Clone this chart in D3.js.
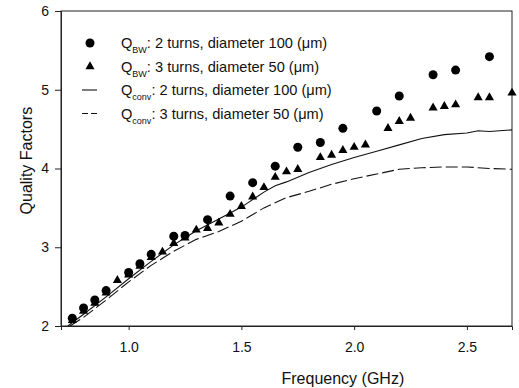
<html lang="en">
  <head>
    <meta charset="UTF-8" />
    <title>Quality Factors vs Frequency</title>
    <script src="https://d3js.org/d3.v7.min.js"></script>
  </head>
  <style>
    body { margin: 0; background: #fff; }
    text { font-family: "Liberation Sans", Arial, sans-serif; fill: #111; }
  </style>
  <body>
    <svg></svg>
    <script>
      var width = 519;
      var height = 388;
      var margin = { top: 11, right: 7, bottom: 62, left: 61 };

      // Q_BW, 2 turns, diameter 100 um (circles)
      var bw2Freq = [0.75, 0.80, 0.85, 0.90, 1.00, 1.05, 1.10, 1.20, 1.25, 1.35, 1.45, 1.55, 1.65, 1.75, 1.85, 1.95, 2.10, 2.20, 2.35, 2.45, 2.60];
      var bw2Q = [2.10, 2.23, 2.33, 2.45, 2.68, 2.79, 2.91, 3.14, 3.15, 3.35, 3.65, 3.82, 4.03, 4.27, 4.33, 4.51, 4.73, 4.92, 5.19, 5.25, 5.42];

      // Q_BW, 3 turns, diameter 50 um (triangles)
      var bw3Freq = [0.75, 0.80, 0.85, 0.90, 0.95, 1.00, 1.05, 1.10, 1.15, 1.20, 1.25, 1.30, 1.35, 1.40, 1.45, 1.50, 1.55, 1.60, 1.65, 1.70, 1.75, 1.85, 1.90, 1.95, 2.00, 2.05, 2.15, 2.20, 2.25, 2.35, 2.40, 2.45, 2.55, 2.60, 2.70];
      var bw3Q = [2.07, 2.19, 2.29, 2.42, 2.58, 2.65, 2.76, 2.87, 2.94, 3.05, 3.12, 3.22, 3.24, 3.31, 3.42, 3.52, 3.64, 3.76, 3.89, 3.96, 3.99, 4.14, 4.17, 4.23, 4.27, 4.30, 4.51, 4.60, 4.64, 4.77, 4.79, 4.81, 4.90, 4.90, 4.96];

      // Q_conv, 2 turns, diameter 100 um (solid)
      var conv2Freq = [0.73, 0.80, 0.90, 1.00, 1.10, 1.20, 1.30, 1.40, 1.50, 1.60, 1.65, 1.70, 1.80, 1.90, 2.00, 2.10, 2.20, 2.30, 2.40, 2.50, 2.55, 2.60, 2.70];
      var conv2Q = [2.00, 2.15, 2.37, 2.60, 2.82, 3.03, 3.21, 3.36, 3.51, 3.70, 3.78, 3.83, 3.95, 4.05, 4.14, 4.22, 4.30, 4.38, 4.43, 4.45, 4.48, 4.47, 4.49];

      // Q_conv, 3 turns, diameter 50 um (dashed)
      var conv3Freq = [0.74, 0.80, 0.90, 1.00, 1.10, 1.20, 1.30, 1.40, 1.50, 1.60, 1.70, 1.80, 1.90, 2.00, 2.10, 2.20, 2.30, 2.40, 2.50, 2.60, 2.70];
      var conv3Q = [2.00, 2.11, 2.33, 2.56, 2.77, 2.95, 3.10, 3.20, 3.33, 3.50, 3.63, 3.71, 3.80, 3.87, 3.93, 3.99, 4.01, 4.02, 4.02, 4.00, 3.99];

      var xTicks = [1.0, 1.5, 2.0, 2.5];
      var yTicks = [2, 3, 4, 5, 6];

      var legendItems = [
        { sub: "BW", rest: ": 2 turns, diameter 100 (\u03bcm)", kind: "circle" },
        { sub: "BW", rest: ": 3 turns, diameter 50 (\u03bcm)", kind: "triangle" },
        { sub: "conv", rest: ": 2 turns, diameter 100 (\u03bcm)", kind: "solid" },
        { sub: "conv", rest: ": 3 turns, diameter 50 (\u03bcm)", kind: "dashed" },
      ];

      var svg = d3.select("svg").attr("width", width).attr("height", height);

      var innerW = width - margin.left - margin.right;
      var innerH = height - margin.top - margin.bottom;

      var x = d3.scaleLinear().domain([0.7, 2.7]).range([0, innerW]);
      var y = d3.scaleLinear().domain([2, 6]).range([innerH, 0]);

      var g = svg.append("g").attr("transform", `translate(${margin.left}, ${margin.top})`);

      // frame
      g.append("rect")
        .attr("width", innerW)
        .attr("height", innerH)
        .style("fill", "none")
        .style("stroke", "#222")
        .style("stroke-width", 1);

      var xAxis = g.append("g")
        .attr("transform", `translate(0, ${innerH})`)
        .call(d3.axisBottom(x).tickValues(xTicks).tickFormat(d3.format(".1f")).tickSize(4).tickPadding(12));
      var yAxis = g.append("g")
        .call(d3.axisLeft(y).tickValues(yTicks).tickFormat(d3.format("d")).tickSize(6).tickPadding(6));

      [xAxis, yAxis].forEach(function (a) {
        a.selectAll(".domain").style("stroke", "#222");
        a.selectAll("line").style("stroke", "#222");
        a.selectAll("text").style("font-size", "14px").style("fill", "#111")
          .style("font-family", '"Liberation Sans", Arial, sans-serif');
      });

      svg.append("text")
        .attr("x", margin.left + (x(1.95)))
        .attr("y", 384)
        .attr("text-anchor", "middle")
        .style("font-size", "16px")
        .text("Frequency (GHz)");

      svg.append("text")
        .attr("transform", `translate(32, ${margin.top + y(4.1)}) rotate(-90)`)
        .attr("text-anchor", "middle")
        .style("font-size", "16px")
        .text("Quality Factors");

      var line = d3.line().x((d) => x(d[0])).y((d) => y(d[1]));

      g.append("path")
        .datum(d3.zip(conv2Freq, conv2Q))
        .attr("d", line)
        .style("fill", "none")
        .style("stroke", "#111")
        .style("stroke-width", 1.1);

      g.append("path")
        .datum(d3.zip(conv3Freq, conv3Q))
        .attr("d", line)
        .style("fill", "none")
        .style("stroke", "#111")
        .style("stroke-width", 1.1)
        .style("stroke-dasharray", "12,4");

      var tri = d3.symbol().type(d3.symbolTriangle).size(36);

      g.append("g")
        .selectAll("path")
        .data(d3.zip(bw3Freq, bw3Q))
        .join("path")
        .attr("d", tri)
        .attr("transform", (d) => `translate(${x(d[0])}, ${y(d[1])})`)
        .style("fill", "#000");

      g.append("g")
        .selectAll("circle")
        .data(d3.zip(bw2Freq, bw2Q))
        .join("circle")
        .attr("cx", (d) => x(d[0]))
        .attr("cy", (d) => y(d[1]))
        .attr("r", 4.5)
        .style("fill", "#000");

      // legend
      var legend = svg.append("g").attr("transform", "translate(90, 43)");
      var rowH = 23.5;

      var rows = legend.selectAll("g")
        .data(legendItems)
        .join("g")
        .attr("transform", (d, i) => `translate(0, ${i * rowH})`);

      rows.filter((d) => d.kind === "circle")
        .append("circle").attr("r", 4.5).style("fill", "#000");
      rows.filter((d) => d.kind === "triangle")
        .append("path").attr("d", tri).style("fill", "#000");
      rows.filter((d) => d.kind === "solid" || d.kind === "dashed")
        .append("line")
        .attr("x1", -8).attr("x2", 7)
        .style("stroke", "#111")
        .style("stroke-width", 1.1)
        .style("stroke-dasharray", (d) => (d.kind === "dashed" ? "6,3" : null));

      var label = rows.append("text")
        .attr("x", 31)
        .attr("y", 5)
        .style("font-size", "14.6px");
      label.append("tspan").text("Q");
      label.append("tspan").attr("dy", 5).style("font-size", "9px").text((d) => d.sub);
      label.append("tspan").attr("dy", -5).text((d) => d.rest);
    </script>
  </body>
</html>
